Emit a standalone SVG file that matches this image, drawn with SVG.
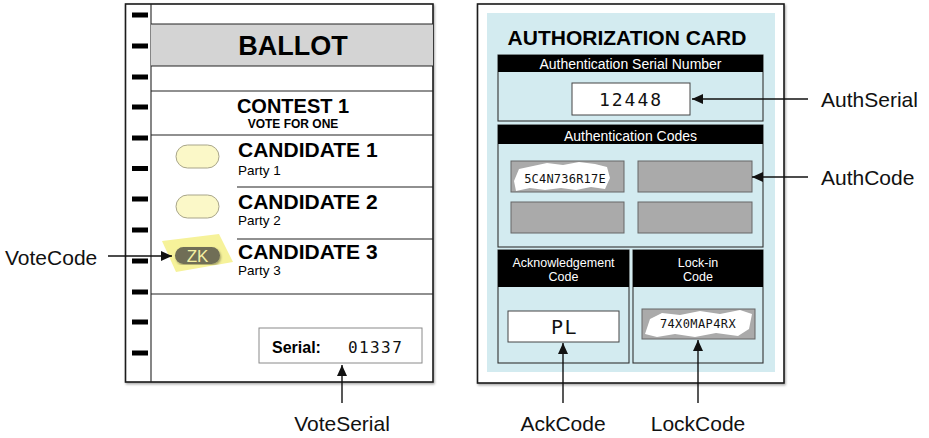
<svg xmlns="http://www.w3.org/2000/svg" width="929" height="438" viewBox="0 0 929 438">
  <style>
    .sans { font-family: "Liberation Sans", Arial, sans-serif; }
    .mono { font-family: "DejaVu Sans Mono", "Liberation Mono", monospace; fill: #111; }
    .frame { fill: #fff; stroke: #1a1a1a; stroke-width: 1.6; }
    .rule { stroke: #222; stroke-width: 1.1; fill: none; }
    .mark { fill: #000; }
    .bold { font-weight: bold; fill: #000; }
    .cand { font-size: 21px; font-weight: bold; fill: #000; }
    .party { font-size: 13.5px; fill: #000; }
    .bubble { fill: #fbf8c8; stroke: #a8a58a; stroke-width: 1; }
    .sect { fill: none; stroke: #333; stroke-width: 1.1; }
    .hdr { fill: #000; }
    .hdrtxt { font-size: 14px; fill: #fff; text-anchor: middle; }
    .hdrsm { font-size: 12.5px; fill: #fff; text-anchor: middle; }
    .slot { fill: #aaaaaa; stroke: #666; stroke-width: 1; }
    .field { fill: #fff; stroke: #444; stroke-width: 1; }
    .scribble { fill: #fff; }
    .label { font-size: 21px; fill: #111; }
    .conn { stroke: #111; stroke-width: 1.4; fill: none; marker-end: url(#arrow); }
  </style>
  <defs>
    <marker id="arrow" markerUnits="userSpaceOnUse" markerWidth="12" markerHeight="10" refX="11" refY="5" orient="auto">
      <path d="M0,0 L11,5 L0,10 Z" fill="#111"/>
    </marker>
    <filter id="shadow" x="-5%" y="-5%" width="110%" height="110%">
      <feDropShadow dx="1" dy="1.5" stdDeviation="1.2" flood-color="#000" flood-opacity="0.35"/>
    </filter>
  </defs>

  <rect width="929" height="438" fill="#fff"/>

  <!-- Ballot sheet -->
  <g id="ballot">
    <rect class="frame" x="125.5" y="4" width="307.5" height="378" filter="url(#shadow)"/>
    <line class="rule" x1="151" y1="4" x2="151" y2="382"/>
    <!-- timing marks -->
    <g>
      <rect class="mark" x="132" y="12.5" width="16" height="5"/>
      <rect class="mark" x="132" y="43.5" width="16" height="5"/>
      <rect class="mark" x="132" y="74.5" width="16" height="5"/>
      <rect class="mark" x="132" y="104.5" width="16" height="5"/>
      <rect class="mark" x="132" y="135.5" width="16" height="5"/>
      <rect class="mark" x="132" y="166" width="16" height="5"/>
      <rect class="mark" x="132" y="196.5" width="16" height="5"/>
      <rect class="mark" x="132" y="227.5" width="16" height="5"/>
      <rect class="mark" x="132" y="258.5" width="16" height="5"/>
      <rect class="mark" x="132" y="289.5" width="16" height="5"/>
      <rect class="mark" x="132" y="319.5" width="16" height="5"/>
      <rect class="mark" x="132" y="350.5" width="16" height="5"/>
    </g>
    <!-- title band -->
    <rect x="151" y="24" width="282" height="42" fill="#d4d4d4"/>
    <line class="rule" x1="151" y1="24" x2="433" y2="24"/>
    <line class="rule" x1="151" y1="66" x2="433" y2="66"/>
    <text class="sans bold" x="293" y="55" font-size="27" text-anchor="middle">BALLOT</text>
    <line class="rule" x1="151" y1="91" x2="433" y2="91"/>
    <text class="sans bold" x="293" y="112.5" font-size="20" text-anchor="middle">CONTEST 1</text>
    <text class="sans bold" x="293" y="128" font-size="12" text-anchor="middle">VOTE FOR ONE</text>
    <line class="rule" x1="151" y1="135" x2="433" y2="135"/>
    <line class="rule" x1="237" y1="187" x2="433" y2="187"/>
    <line class="rule" x1="237" y1="239" x2="433" y2="239"/>
    <line class="rule" x1="151" y1="294" x2="433" y2="294"/>
  </g>

  <g id="candidate1">
    <rect class="bubble" x="176" y="145" width="43" height="23" rx="11.5"/>
    <text class="sans cand" x="238" y="157">CANDIDATE 1</text>
    <text class="sans party" x="238" y="174.5">Party 1</text>
  </g>

  <g id="candidate2">
    <rect class="bubble" x="176" y="195" width="43" height="23" rx="11.5"/>
    <text class="sans cand" x="238" y="209">CANDIDATE 2</text>
    <text class="sans party" x="238" y="225">Party 2</text>
  </g>

  <g id="candidate3">
    <polygon points="162,241 219,234 233,262 176,272" fill="#f6f29a"/>
    <rect x="175" y="247" width="45" height="17" rx="8.5" fill="#6f6e56" filter="url(#shadow)"/>
    <text class="sans" x="197.5" y="262" font-size="17" fill="#f3efa2" text-anchor="middle">ZK</text>
    <text class="sans cand" x="238" y="259">CANDIDATE 3</text>
    <text class="sans party" x="238" y="275">Party 3</text>
  </g>

  <g id="ballot-serial">
    <rect x="259" y="328" width="163" height="35" fill="#fff" stroke="#8a8a8a" stroke-width="1"/>
    <text class="sans bold" x="272" y="353" font-size="16">Serial:</text>
    <text class="mono" x="348" y="353" font-size="16" letter-spacing="1.4">01337</text>
  </g>

  <!-- Authorization card -->
  <g id="card">
    <rect class="frame" x="477.5" y="4" width="306.5" height="379" filter="url(#shadow)"/>
    <rect x="487" y="13" width="288" height="359" fill="#d3ebf0"/>
    <text class="sans bold" x="627" y="45" font-size="21" text-anchor="middle">AUTHORIZATION CARD</text>
  </g>

  <g id="auth-serial">
    <rect class="sect" x="498" y="55" width="265" height="66"/>
    <rect class="hdr" x="498" y="55" width="265" height="17"/>
    <text class="sans hdrtxt" x="630.5" y="68.5" font-size="13.5">Authentication Serial Number</text>
    <rect class="field" x="572" y="83" width="118" height="32"/>
    <text class="mono" x="631" y="106" font-size="18" letter-spacing="2" text-anchor="middle">12448</text>
  </g>

  <g id="auth-codes">
    <rect class="sect" x="498" y="125" width="265" height="122"/>
    <rect class="hdr" x="498" y="125" width="265" height="19"/>
    <text class="sans hdrtxt" x="630.5" y="140.5">Authentication Codes</text>
    <rect class="slot" x="511" y="161" width="113" height="31"/>
    <path class="scribble" d="M514,181 L519,169 L533,166 L547,163 L563,165 L579,162 L595,164 L607,167 L610,178 L605,189 L591,187 L576,190 L561,188 L545,190 L530,188 L516,191 Z"/>
    <text class="mono" x="565" y="183" font-size="12" letter-spacing="0.2" text-anchor="middle">5C4N736R17E</text>
    <rect class="slot" x="638" y="161" width="114" height="31"/>
    <rect class="slot" x="511" y="202" width="113" height="31"/>
    <rect class="slot" x="638" y="202" width="114" height="31"/>
  </g>

  <g id="ack-code">
    <rect class="sect" x="498" y="250" width="131" height="113"/>
    <rect class="hdr" x="498" y="250" width="131" height="37"/>
    <text class="sans hdrsm" x="563.5" y="267">Acknowledgement</text>
    <text class="sans hdrsm" x="563.5" y="281">Code</text>
    <rect class="field" x="508" y="311" width="111" height="31"/>
    <text class="mono" x="564.5" y="334" font-size="20" letter-spacing="1.5" text-anchor="middle">PL</text>
  </g>

  <g id="lock-code">
    <rect class="sect" x="633" y="250" width="130" height="113"/>
    <rect class="hdr" x="633" y="250" width="130" height="37"/>
    <text class="sans hdrsm" x="698" y="267">Lock-in</text>
    <text class="sans hdrsm" x="698" y="281">Code</text>
    <rect class="slot" x="642" y="309" width="113" height="30"/>
    <path class="scribble" d="M645,334 L650,319 L662,313 L680,315 L700,311 L720,314 L740,310 L752,314 L749,329 L738,336 L716,333 L695,337 L675,334 L657,337 Z"/>
    <text class="mono" x="698" y="328" font-size="12" letter-spacing="0.4" text-anchor="middle">74X0MAP4RX</text>
  </g>

  <!-- Callout labels -->
  <g id="label-votecode"><text class="sans label" x="5" y="265">VoteCode</text></g>
  <g id="label-voteserial"><text class="sans label" x="342" y="431" text-anchor="middle">VoteSerial</text></g>
  <g id="label-authserial"><text class="sans label" x="821" y="107">AuthSerial</text></g>
  <g id="label-authcode"><text class="sans label" x="821" y="185">AuthCode</text></g>
  <g id="label-ackcode"><text class="sans label" x="563" y="431" text-anchor="middle">AckCode</text></g>
  <g id="label-lockcode"><text class="sans label" x="698" y="431" text-anchor="middle">LockCode</text></g>

  <!-- Connectors -->
  <g id="connectors">
    <line class="conn" x1="108" y1="256" x2="172" y2="256"/>
    <line class="conn" x1="342" y1="403" x2="342" y2="365"/>
    <line class="conn" x1="808" y1="99" x2="692" y2="99"/>
    <line class="conn" x1="808" y1="177" x2="752" y2="177"/>
    <line class="conn" x1="563" y1="403" x2="563" y2="343"/>
    <line class="conn" x1="698" y1="403" x2="698" y2="340"/>
  </g>
</svg>
